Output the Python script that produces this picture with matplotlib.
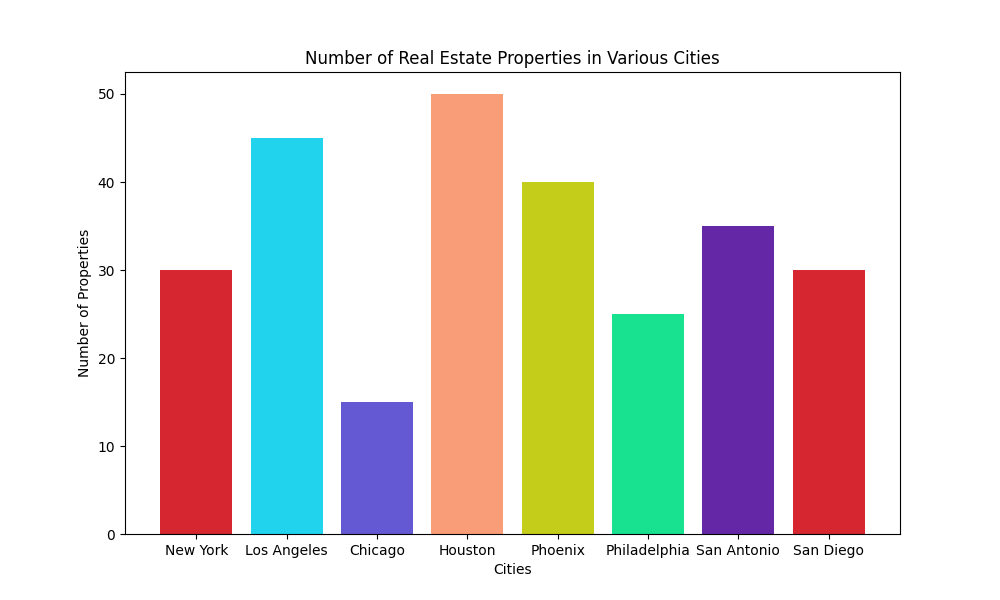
import matplotlib
matplotlib.use("Agg")
import matplotlib.pyplot as plt

cities = ["New York", "Los Angeles", "Chicago", "Houston", "Phoenix",
          "Philadelphia", "San Antonio", "San Diego"]
properties = [30, 45, 15, 50, 40, 25, 35, 30]
colors = ["#D62730", "#22D3EE", "#6559D3", "#F99D78", "#C4CD1A",
          "#18E190", "#6428A6", "#D62730"]

fig, ax = plt.subplots(figsize=(10, 6), dpi=100)
ax.bar(cities, properties, color=colors)

ax.set_title("Number of Real Estate Properties in Various Cities")
ax.set_xlabel("Cities")
ax.set_ylabel("Number of Properties")

fig.savefig("out.png")
